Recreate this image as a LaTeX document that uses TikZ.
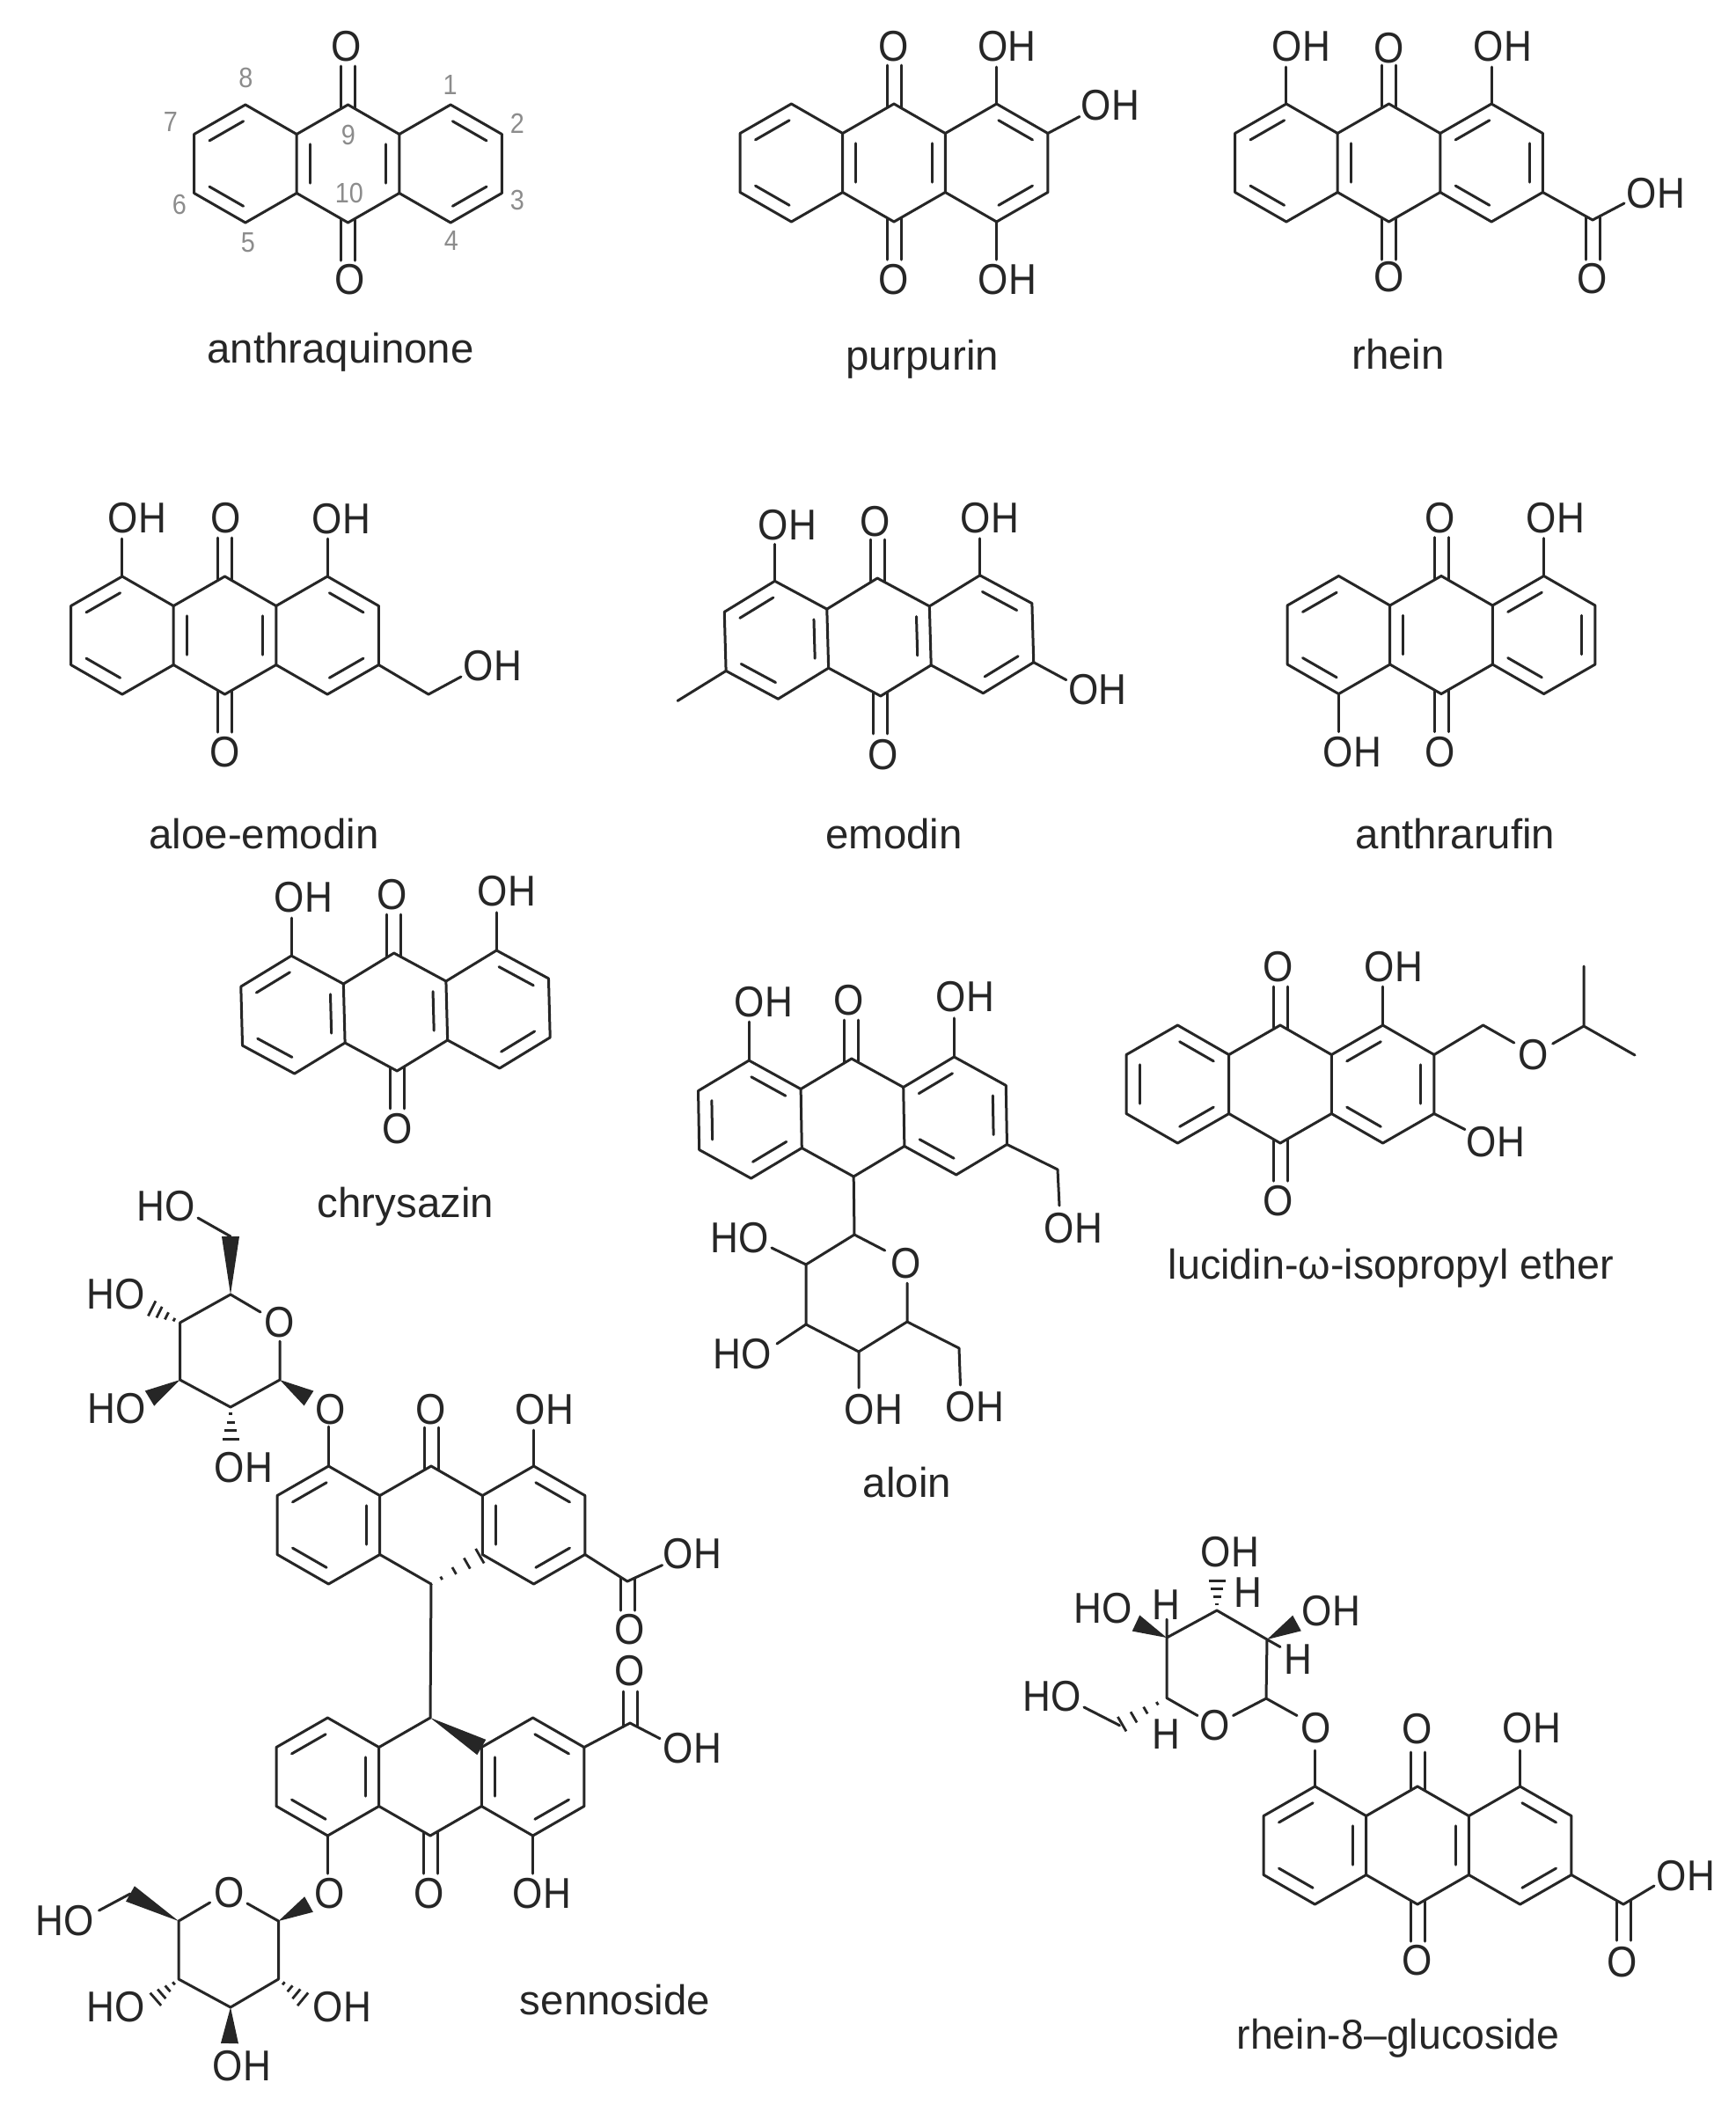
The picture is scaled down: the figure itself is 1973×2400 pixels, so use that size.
\documentclass[tikz,border=0pt]{standalone}
\usepackage{fontspec}
\setmainfont{Liberation Sans}
\usepackage{graphicx}
\usetikzlibrary{calc}
\definecolor{ink}{HTML}{262626}
\definecolor{numgray}{HTML}{8C8C8C}
\newcounter{lblc}
\tikzset{
  chembond/.style={draw=ink,line width=1.5pt,line cap=round,line join=round},
  innerbond/.style={chembond,shorten <=1.3pt,shorten >=1.3pt},
  atomlab/.style={inner sep=0pt,text=ink,font=\fontsize{24.5}{25}\selectfont},
  captlab/.style={inner sep=0pt,text=ink,font=\fontsize{23.7}{24}\selectfont},
  numlab/.style={inner sep=0pt,text=numgray,font=\fontsize{16}{17}\selectfont},
}
% named point
\newcommand\pt[3]{\coordinate (#1) at (#2,#3);}
% text labels
\newcommand\lbl[3]{\stepcounter{lblc}\node[atomlab] (atom\thelblc) at (#1,#2) {\scalebox{.9}[1]{#3}};}
\newcommand\capt[3]{\stepcounter{lblc}\node[captlab] (cap\thelblc) at (#1,#2) {#3};}
\newcommand\num[3]{\stepcounter{lblc}\node[numlab] (num\thelblc) at (#1,#2) {\scalebox{.9}[1]{#3}};}
% tricyclic skeleton points: [angle]{cx}{cy}
\newcommand\ancoord[3][0]{%
  \begin{scope}[shift={(#2,#3)},rotate=#1]
    \coordinate (TL) at (-116.6,-67); \coordinate (TC) at (0,-67); \coordinate (TR) at (116.6,-67);
    \coordinate (L1) at (-174.9,-33.5); \coordinate (L2) at (-58.3,-33.5);
    \coordinate (R2) at (58.3,-33.5); \coordinate (R1) at (174.9,-33.5);
    \coordinate (L3) at (-174.9,33.5); \coordinate (L4) at (-58.3,33.5);
    \coordinate (R4) at (58.3,33.5); \coordinate (R3) at (174.9,33.5);
    \coordinate (BL) at (-116.6,67); \coordinate (BC) at (0,67); \coordinate (BR) at (116.6,67);
    \coordinate (CL) at (-116.6,0); \coordinate (CC) at (0,0); \coordinate (CR) at (116.6,0);
  \end{scope}}
\newcommand\ringL{\draw[chembond] (TL)--(L1)--(L3)--(BL)--(L4)--(L2)--cycle;}
\newcommand\ringR{\draw[chembond] (TR)--(R1)--(R3)--(BR)--(R4)--(R2)--cycle;}
\newcommand\skel{\ringL\ringR\draw[chembond] (L2)--(TC)--(R2) (L4)--(BC)--(R4);}
% inner line of a ring double bond: {ring centre}{a}{b}
\newcommand\db[3]{\draw[innerbond] ($(#2)!.26!(#1)$) -- ($(#3)!.26!(#1)$);}
% single bond from a vertex, by offset
\newcommand\sub[3]{\coordinate (e) at ($(#1)+(#2,#3)$); \draw[chembond] (#1) -- (e);}
% exocyclic vertical double bond: {vertex}{start dy}{end dy}
\newcommand\dbo[3]{\draw[chembond] ($(#1)+(-8,#2)$) -- ($(#1)+(-8,#3)$) ($(#1)+(8,#2)$) -- ($(#1)+(8,#3)$);}
% solid wedge {tip}{wide end}{half width}
\newcommand\wdg[3]{\fill[ink] (#1) -- ($(#2)!#3!90:(#1)$) -- ($(#2)!#3!-90:(#1)$) -- cycle;}
% hashed wedge {tip}{wide end}{half width in pt}
\newcommand\hsh[3]{\foreach \f in {.2,.45,.7,.95}{%
   \coordinate (hp) at ($(#1)!\f!(#2)$);
   \draw[ink,line width=1.4pt] ($(hp)!\f*#3pt!90:(#2)$) -- ($(hp)!\f*#3pt!-90:(#2)$);}}
\begin{document}
\begin{tikzpicture}[x=.5pt,y=-.5pt]
\useasboundingbox (0,0) rectangle (1973,2400);
\fill[white] (0,0) rectangle (1973,2400);

% ---------- anthraquinone
\ancoord{395.5}{186}\skel
\db{CL}{TL}{L1}\db{CL}{BL}{L3}\db{CC}{L2}{L4}\db{CC}{R2}{R4}\db{CR}{TR}{R1}\db{CR}{BR}{R3}
\dbo{TC}{4}{-44}\dbo{BC}{-4}{43}
\lbl{394}{53}{O}\lbl{398}{318}{O}
\num{279.5}{88}{8}\num{194}{138}{7}\num{204}{232}{6}\num{282}{276}{5}
\num{396}{153}{9}\num{397}{219}{10}\num{511.6}{96}{1}\num{588}{140}{2}\num{588}{227}{3}\num{513}{273}{4}
\capt{387}{400}{anthraquinone}

% ---------- purpurin
\ancoord{1016}{185}\skel
\db{CL}{TL}{L1}\db{CL}{BL}{L3}\db{CC}{L2}{L4}\db{CC}{R2}{R4}\db{CR}{TR}{R1}\db{CR}{BR}{R3}
\dbo{TC}{4}{-44}\dbo{BC}{-4}{43}
\sub{TR}{0}{-42}\sub{BR}{0}{43}\sub{R1}{36}{-19}
\lbl{1016}{53}{O}\lbl{1016}{318}{O}\lbl{1144.5}{53}{OH}\lbl{1145}{318}{OH}\lbl{1262}{120}{OH}
\capt{1048}{408}{purpurin}

% ---------- rhein
\ancoord{1578.5}{185}\skel
\db{CL}{TL}{L1}\db{CL}{BL}{L3}\db{CC}{L2}{L4}\db{CR}{R2}{TR}\db{CR}{R1}{R3}\db{CR}{R4}{BR}
\dbo{TC}{4}{-44}\dbo{BC}{-4}{43}
\sub{TL}{0}{-42}\sub{TR}{0}{-42}
\pt{ca}{1810}{250}\pt{cb}{1846}{231}
\draw[chembond] (R3)--(ca)--(cb);
\dbo{ca}{-4}{45}
\lbl{1479}{53}{OH}\lbl{1579}{55}{O}\lbl{1708}{53}{OH}\lbl{1579}{315}{O}\lbl{1882}{220}{OH}\lbl{1810}{317}{O}
\capt{1589}{403}{rhein}

% ---------- aloe-emodin
\ancoord{255.5}{722}\skel
\db{CL}{TL}{L1}\db{CL}{BL}{L3}\db{CC}{L2}{L4}\db{CC}{R2}{R4}\db{CR}{TR}{R1}\db{CR}{BR}{R3}
\dbo{TC}{4}{-44}\dbo{BC}{-4}{43}
\sub{TL}{0}{-43}\sub{TR}{0}{-43}
\pt{ca}{487}{789}\pt{cb}{524}{769}
\draw[chembond] (R3)--(ca)--(cb);
\lbl{156}{589}{OH}\lbl{257}{589}{O}\lbl{388}{590}{OH}\lbl{256}{855}{O}\lbl{560}{757}{OH}
\capt{300}{948}{aloe-emodin}

% ---------- emodin
\ancoord[1.6]{999}{724}\skel
\db{CL}{TL}{L1}\db{CL}{BL}{L3}\db{CL}{L2}{L4}\db{CC}{R2}{R4}\db{CR}{TR}{R1}\db{CR}{BR}{R3}
\dbo{TC}{4}{-44}\dbo{BC}{-4}{43}
\sub{TL}{0}{-42}\sub{TR}{0}{-42}\sub{R3}{37}{20}\sub{L3}{-55}{34}
\lbl{895}{597}{OH}\lbl{994.5}{593}{O}\lbl{1125}{589}{OH}\lbl{1004}{858}{O}\lbl{1247.6}{784}{OH}
\capt{1016}{948}{emodin}

% ---------- anthrarufin
\ancoord{1638}{721.5}\skel
\db{CL}{TL}{L1}\db{CL}{BL}{L3}\db{CC}{L2}{L4}\db{CR}{R2}{TR}\db{CR}{R1}{R3}\db{CR}{R4}{BR}
\dbo{TC}{4}{-44}\dbo{BC}{-4}{43}
\sub{TR}{0}{-43}\sub{BL}{0}{43}
\lbl{1637}{589}{O}\lbl{1768}{589}{OH}\lbl{1537}{855}{OH}\lbl{1637}{855}{O}
\capt{1654}{948}{anthrarufin}

% ---------- chrysazin
\ancoord[1.5]{449.5}{1150}\skel
\db{CL}{TL}{L1}\db{CL}{BL}{L3}\db{CL}{L2}{L4}\db{CC}{R2}{R4}\db{CR}{TR}{R1}\db{CR}{BR}{R3}
\dbo{TC}{4}{-44}\dbo{BC}{-4}{43}
\sub{TL}{0}{-43}\sub{TR}{0}{-43}
\lbl{345}{1020}{OH}\lbl{446}{1017}{O}\lbl{576}{1013}{OH}\lbl{452}{1283}{O}
\capt{461}{1371}{chrysazin}

% ---------- aloin
\ancoord[1]{969}{1270}\skel
\db{CL}{TL}{L2}\db{CL}{L1}{L3}\db{CL}{BL}{L4}\db{CR}{R2}{TR}\db{CR}{R1}{R3}\db{CR}{R4}{BR}
\dbo{TC}{4}{-44}
\sub{TL}{0}{-44}\sub{TR}{0}{-44}
\pt{ca}{1202}{1329}\pt{cb}{1204}{1370}
\draw[chembond] (R3)--(ca)--(cb);
\pt{sa}{971}{1403}\pt{sb}{1005.7}{1421}\pt{sc}{1031}{1458}\pt{sd}{1031}{1502}\pt{se}{976}{1536}\pt{sf}{916}{1505}\pt{sg}{916}{1437}
\pt{sh}{1090}{1532}\pt{si}{1091.5}{1574}\pt{sj}{976}{1577}\pt{sk}{883}{1527}\pt{sl}{877}{1418}
\draw[chembond] (BC)--(sa)--(sb) (sc)--(sd)--(se)--(sf)--(sg)--(sa);
\draw[chembond] (sd)--(sh)--(si) (se)--(sj) (sf)--(sk) (sg)--(sl);
\lbl{868}{1139}{OH}\lbl{965}{1137}{O}\lbl{1097}{1133}{OH}\lbl{1220}{1396}{OH}
\lbl{841}{1407}{HO}\lbl{1030}{1436}{O}\lbl{844}{1539}{HO}\lbl{993}{1602}{OH}\lbl{1108}{1599}{OH}
\capt{1031}{1685}{aloin}

% ---------- lucidin-w-isopropyl ether
\ancoord{1455}{1232}\skel
\db{CL}{TL}{L2}\db{CL}{L1}{L3}\db{CL}{BL}{L4}\db{CR}{R2}{TR}\db{CR}{R1}{R3}\db{CR}{R4}{BR}
\dbo{TC}{4}{-44}\dbo{BC}{-4}{43}
\sub{TR}{0}{-44}\sub{R3}{35}{18}
\pt{ca}{1685.6}{1165}\pt{cb}{1720.8}{1185}\pt{cc}{1764.7}{1186}\pt{cd}{1800}{1166}\pt{ce}{1800}{1098}\pt{cf}{1858}{1199}
\draw[chembond] (R1)--(ca)--(cb) (cc)--(cd)--(ce) (cd)--(cf);
\lbl{1453}{1099}{O}\lbl{1584}{1099}{OH}\lbl{1453}{1365}{O}\lbl{1700}{1298}{OH}\lbl{1742.8}{1199}{O}
\capt{1581}{1441}{\scalebox{.985}[1]{lucidin-ω-isopropyl ether}}

% ---------- sennoside, upper half
\ancoord{490}{1733}\ringL\ringR
\draw[chembond] (L2)--(TC)--(R2) (L4)--(BC);
\db{CL}{TL}{L1}\db{CL}{BL}{L3}\db{CL}{L2}{L4}\db{CR}{R2}{R4}\db{CR}{TR}{R1}\db{CR}{BR}{R3}
\dbo{TC}{4}{-44}
\sub{TL}{0}{-45}\sub{TR}{0}{-41}
\hsh{BC}{R4}{5}
\coordinate (upBC) at (BC);
\pt{ca}{713}{1797}\pt{cb}{752.6}{1778.6}
\draw[chembond] (R3)--(ca)--(cb);
\dbo{ca}{-4}{33}
\pt{sa}{318}{1568}\pt{sb}{318}{1524}\pt{sc}{296}{1491}\pt{sd}{262}{1471}\pt{se}{204.6}{1503}\pt{sf}{204.6}{1568}\pt{sg}{262}{1599}
\pt{sh}{262}{1405}\pt{si}{225}{1384}\pt{sj}{351}{1589}\pt{sk}{171}{1486}\pt{sl}{170}{1589}\pt{sm}{262}{1637}
\draw[chembond] (sb)--(sa)--(sg)--(sf)--(se)--(sd)--(sc) (sh)--(si);
\wdg{sa}{sj}{5pt}\wdg{sd}{sh}{5pt}\wdg{sf}{sl}{5pt}
\hsh{se}{sk}{5}\hsh{sg}{sm}{5}
\lbl{189}{1371}{HO}\lbl{132}{1471}{HO}\lbl{318}{1503}{O}\lbl{133}{1601}{HO}\lbl{376}{1602}{O}
\lbl{490}{1602}{O}\lbl{619}{1602}{OH}\lbl{277}{1668}{OH}\lbl{787}{1766}{OH}\lbl{716}{1852}{O}

% ---------- sennoside, lower half
\ancoord{489}{2019}\ringL\ringR
\draw[chembond] (L2)--(TC) (L4)--(BC)--(R4) (upBC)--(TC);
\wdg{TC}{R2}{5pt}
\db{CL}{TL}{L1}\db{CL}{BL}{L3}\db{CL}{L2}{L4}\db{CR}{R2}{R4}\db{CR}{TR}{R1}\db{CR}{BR}{R3}
\dbo{BC}{-4}{43}
\sub{BL}{0}{43}\sub{BR}{0}{43}
\pt{ca}{716}{1958}\pt{cb}{750}{1975.6}
\draw[chembond] (R1)--(ca)--(cb);
\dbo{ca}{4}{-36}
\pt{sa}{316.5}{2183}\pt{sb}{281}{2163}\pt{sc}{238.6}{2162}\pt{sd}{203}{2183}\pt{se}{203}{2249}\pt{sf}{262}{2281}\pt{sg}{316.5}{2249}
\pt{sh}{351}{2164}\pt{si}{148}{2152}\pt{sj}{112.5}{2171}\pt{sk}{175.5}{2273}\pt{sl}{345.6}{2273}\pt{sm}{261}{2322}
\draw[chembond] (sb)--(sa)--(sg)--(sf)--(se)--(sd)--(sc) (si)--(sj);
\wdg{sa}{sh}{5pt}\wdg{sd}{si}{5pt}\wdg{sf}{sm}{5pt}
\hsh{se}{sk}{5}\hsh{sg}{sl}{5}
\lbl{716}{1899}{O}\lbl{787}{1987}{OH}\lbl{375}{2152}{O}\lbl{488}{2152}{O}\lbl{616}{2152}{OH}
\lbl{260.5}{2151}{O}\lbl{74}{2183}{HO}\lbl{132}{2281}{HO}\lbl{389}{2281}{OH}\lbl{275}{2347.5}{OH}
\capt{699}{2273}{sennoside}

% ---------- rhein-8-glucoside
\ancoord{1611}{2097}\skel
\db{CL}{TL}{L1}\db{CL}{BL}{L3}\db{CL}{L2}{L4}\db{CC}{R2}{R4}\db{CR}{TR}{R1}\db{CR}{BR}{R3}
\dbo{TC}{4}{-39}\dbo{BC}{-4}{42}
\sub{TL}{0}{-41}\sub{TR}{0}{-41}
\pt{ca}{1845}{2164}\pt{cb}{1880}{2143}
\draw[chembond] (R3)--(ca)--(cb);
\dbo{ca}{-4}{41}
\pt{sa}{1439}{1930}\pt{sb}{1474}{1949.5}\pt{sc}{1401.5}{1949.5}\pt{sd}{1361}{1949.5}\pt{se}{1326}{1929.5}\pt{sf}{1326}{1861}\pt{sg}{1383}{1830}\pt{sh}{1440}{1863}
\pt{si}{1272.5}{1960.7}\pt{sj}{1232}{1940}\pt{sk}{1291}{1844.5}\pt{sl}{1383}{1795}\pt{sm}{1474}{1844.5}
\pt{sn}{1326}{1840}\pt{so}{1455}{1871.5}
\draw[chembond] (sb)--(sa)--(sc) (sd)--(se)--(sf)--(sg)--(sh)--(sa) (si)--(sj) (sf)--(sn) (sh)--(so);
\hsh{se}{si}{5}\hsh{sg}{sl}{5}
\wdg{sf}{sk}{5pt}\wdg{sh}{sm}{5pt}
\lbl{1398}{1764}{OH}\lbl{1254}{1828}{HO}\lbl{1325}{1824}{H}\lbl{1418}{1810}{H}\lbl{1513}{1831}{OH}\lbl{1475}{1886}{H}
\lbl{1195.6}{1927.5}{HO}\lbl{1325}{1971}{H}\lbl{1381}{1960.7}{O}\lbl{1495.6}{1963.6}{O}
\lbl{1611}{1965}{O}\lbl{1741}{1963.6}{OH}\lbl{1916}{2131.6}{OH}\lbl{1611}{2228}{O}\lbl{1844}{2229.5}{O}
\capt{1589}{2316}{\scalebox{.98}[1]{rhein-8–glucoside}}
\end{tikzpicture}
\end{document}
